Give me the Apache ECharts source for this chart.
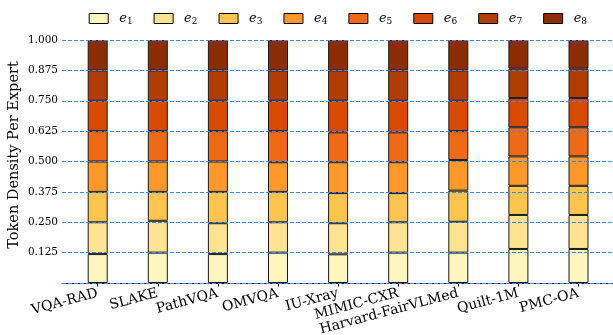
<!DOCTYPE html>
<html>
<head>
<meta charset="utf-8">
<script src="https://cdn.jsdelivr.net/npm/echarts@6/dist/echarts.min.js"></script>
<style>html,body{margin:0;padding:0;background:#fff;}#c{width:613px;height:335px;}</style>
</head>
<body>
<div id="c"></div>
<script>
const categories = ['VQA-RAD','SLAKE','PathVQA','OMVQA','IU-Xray','MIMIC-CXR','Harvard-FairVLMed','Quilt-1M','PMC-OA'];
const expertNames = ['e1','e2','e3','e4','e5','e6','e7','e8'];
const e1 = [0.119,0.125,0.119,0.125,0.118,0.125,0.125,0.140,0.140];
const e2 = [0.131,0.131,0.127,0.125,0.128,0.125,0.127,0.140,0.140];
const e3 = [0.125,0.119,0.129,0.125,0.124,0.120,0.128,0.120,0.120];
const e4 = [0.125,0.125,0.125,0.122,0.127,0.127,0.126,0.121,0.121];
const e5 = [0.125,0.125,0.125,0.128,0.123,0.123,0.119,0.120,0.120];
const e6 = [0.125,0.125,0.125,0.125,0.130,0.130,0.125,0.120,0.120];
const e7 = [0.125,0.125,0.125,0.125,0.125,0.125,0.125,0.121,0.121];
const e8 = [0.125,0.125,0.125,0.125,0.125,0.125,0.125,0.118,0.118];
const yTicks = [0.125,0.250,0.375,0.500,0.625,0.750,0.875,1.000];

const seriesValues = [e1,e2,e3,e4,e5,e6,e7,e8];
const colors = ['#fff6bf','#fee393','#fec450','#fd992b','#ef6a17','#d84a02','#b03d03','#8a2d04'];
const FONT = 'DejaVu Serif';

const chart = echarts.init(document.getElementById('c'), null, {renderer:'canvas'});

chart.setOption({
  animation:false,
  color: colors,
  legend:{
    data: expertNames,
    left: 88.7, top: 12, padding: 0,
    itemWidth: 19, itemHeight: 10, itemGap: 21,
    icon:'rect',
    itemStyle:{borderColor:'#000', borderWidth:1},
    formatter: n => '{i|e}{s|' + n.slice(1) + '}',
    textStyle:{
      padding:[0,0,0,6],
      rich:{
        i:{fontFamily:FONT, fontStyle:'italic', fontSize:13, color:'#000', lineHeight:16},
        s:{fontFamily:FONT, fontSize:9, color:'#000', verticalAlign:'bottom', lineHeight:12}
      }
    }
  },
  grid:[
    {left:67.65, right:4.45, top:40, bottom:52, containLabel:false, outerBoundsMode:'none'},
    {left:62, right:0, top:40, bottom:52, containLabel:false, outerBoundsMode:'none'}
  ],
  xAxis:[
    {
      type:'category', gridIndex:0, data:categories, boundaryGap:true,
      axisLine:{show:false},
      axisTick:{show:true, alignWithLabel:true, length:3.5, lineStyle:{color:'#000', width:1}},
      axisLabel:{interval:0, rotate:15, margin:10, fontFamily:FONT, fontSize:14, color:'#000'},
      splitLine:{show:false}
    },
    {
      type:'value', gridIndex:1, min:0, max:1,
      axisLine:{show:true, onZero:false, lineStyle:{color:'#000', width:1.2}},
      axisTick:{show:false}, axisLabel:{show:false}, splitLine:{show:false}
    }
  ],
  yAxis:[
    {
      type:'value', gridIndex:0, min:0, max:1, interval:0.125,
      axisLine:{show:false}, axisTick:{show:false}, axisLabel:{show:false}, splitLine:{show:false}
    },
    {
      type:'value', gridIndex:1, min:0, max:1, interval:0.125, z:5,
      name:'Token Density Per Expert', nameLocation:'middle', nameRotate:90, nameGap:40,
      nameMoveOverlap:false,
      nameTextStyle:{fontFamily:FONT, fontSize:14.5, color:'#000', padding:[0,0,0,13]},
      axisLine:{show:false}, axisTick:{show:false},
      axisLabel:{
        fontFamily:FONT, fontSize:10.5, color:'#000', margin:4,
        formatter: v => yTicks.some(t=>Math.abs(t-v)<1e-6) ? v.toFixed(3) : ''
      },
      splitLine:{show:true, lineStyle:{color:'#3f86f2', width:1, type:[4,2]}}
    }
  ],
  series: seriesValues.map((vals,k)=>({
    name: expertNames[k], type:'bar', stack:'total', barWidth:20,
    xAxisIndex:0, yAxisIndex:0,
    itemStyle:{color: colors[k], borderColor:'#1a1a1a', borderWidth:1},
    data: vals
  }))
});
</script>
</body>
</html>
